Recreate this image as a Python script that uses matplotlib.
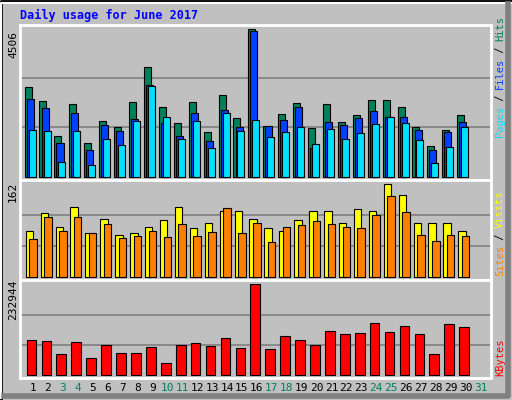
import matplotlib
matplotlib.use('Agg')
import matplotlib.pyplot as plt
import numpy as np

days = list(range(1, 31))
weekend = [3, 4, 10, 11, 17, 18, 24, 25, 31]
hits = [2740, 2311, 1238, 2219, 1024, 1698, 1514, 2280, 3353, 2127,
        1637, 2280, 1361, 2495, 1790, 4506, 1545, 1913, 2250, 1483,
        2219, 1667, 1882, 2342, 2342, 2127, 1514, 932, 1422, 1882]
files = [2372, 2096, 1042, 1943, 809, 1575, 1391, 1759, 2801, 1637,
         1238, 1943, 1085, 2035, 1514, 4445, 1545, 1729, 2127, 870,
         1667, 1575, 1790, 2004, 1821, 1821, 1422, 809, 1361, 1667]
pages = [1422, 1391, 441, 1391, 349, 1146, 962, 1698, 2771, 1821,
         1146, 1698, 870, 1943, 1391, 1729, 1208, 1361, 1514, 993,
         1453, 1146, 1330, 1606, 1821, 1637, 1116, 411, 901, 1514]
sites = [81, 111, 88, 123, 76, 102, 73, 76, 87, 99,
         122, 85, 94, 115, 116, 102, 85, 81, 99, 116,
         115, 95, 118, 116, 162, 144, 94, 95, 94, 81]
visits = [66, 104, 80, 104, 76, 92, 67, 71, 80, 69,
          92, 71, 78, 120, 76, 94, 60, 87, 90, 97,
          92, 88, 85, 108, 141, 113, 73, 62, 73, 71]
kbytes = [90100, 87550, 54400, 85000, 44200, 77350, 56950, 56950, 72250, 31450,
          77350, 82450, 74800, 95200, 69700, 232944, 67150, 100300, 90100, 77350,
          113050, 105400, 107950, 133450, 110500, 125800, 105400, 54400, 130900, 123250]

BG = '#C0C0C0'
W, H = 512, 400
fig = plt.figure(figsize=(W / 100, H / 100), dpi=100, facecolor=BG)

# 外框
frame = fig.add_axes([0, 0, 1, 1])
frame.set_xlim(0, W); frame.set_ylim(H, 0); frame.axis('off')
frame.plot([1, 1, 511], [399, 1, 1], color='black', lw=2)
frame.plot([1, 1, 511], [398, 3, 3], color='white', lw=1.5)
frame.plot([508, 508, 4], [4, 396, 396], color='#808080', lw=4)

frame.text(20, 15, 'Daily usage for June 2017', color='#0000FF', fontsize=8.5,
           fontweight='bold', family='DejaVu Sans Mono', va='center')

x = np.array(days)
x0, x1 = 20, 491


def make_ax(top, bottom):
    ax = fig.add_axes([x0 / W, 1 - bottom / H, (x1 - x0) / W, (bottom - top) / H])
    ax.set_facecolor(BG)
    for s in ax.spines.values():
        s.set_color('white'); s.set_linewidth(2)
    ax.set_xticks([]); ax.set_yticks([])
    ax.set_xlim(0.129, 31.7)
    return ax


def grids(ax, vmax):
    for f in (1 / 3, 2 / 3):
        ax.axhline(vmax * f, color='#808080', lw=1.2, zorder=0)


ax1 = make_ax(25, 180)
m = 4506
ax1.set_ylim(-0.022 * m, m * 1.027)
grids(ax1, m)
ax1.bar(x - 0.33, hits, width=0.47, color='#00805C', edgecolor='black', lw=0.8, zorder=2)
ax1.bar(x - 0.19, files, width=0.47, color='#0040FF', edgecolor='black', lw=0.8, zorder=3)
ax1.bar(x - 0.06, pages, width=0.47, color='#00E0FF', edgecolor='black', lw=0.8, zorder=4)

ax2 = make_ax(180, 280)
m = 162
ax2.set_ylim(-0.036 * m, m * 1.047)
grids(ax2, m)
ax2.bar(x - 0.24, sites, width=0.5, color='#FFFF00', edgecolor='black', lw=0.8, zorder=2)
ax2.bar(x + 0.0, visits, width=0.5, color='#FF8000', edgecolor='black', lw=0.8, zorder=3)

ax3 = make_ax(280, 378)
m = 232944
ax3.set_ylim(-0.033 * m, m * 1.047)
grids(ax3, m)
ax3.bar(x - 0.1, kbytes, width=0.65, color='#FF0000', edgecolor='black', lw=0.8, zorder=2)

# 左侧最大值
for y, s in [(45, '4506'), (192, '162'), (300, '232944')]:
    frame.text(13, y, s, rotation=90, fontsize=8, family='DejaVu Sans Mono',
               ha='center', va='center')

# 日期标签
for d in range(1, 32):
    px = 33 + (d - 1) * 14.92
    frame.text(px, 388, str(d), fontsize=8, family='DejaVu Sans Mono', ha='center',
               va='center', color='#00805C' if d in weekend else 'black')

# 右侧图例文字
def vlabel(parts, ybottom):
    y = ybottom
    for s, c in parts:
        t = frame.text(500, y, s, rotation=90, fontsize=7.5, family='DejaVu Sans Mono',
                       color=c, ha='center', va='bottom')
        y -= len(s) * 6.0

vlabel([('Pages', '#00E0FF'), (' / ', 'black'), ('Files', '#0040FF'),
        (' / ', 'black'), ('Hits', '#00805C')], 137)
vlabel([('Sites', '#FF8000'), (' / ', 'black'), ('Visits', '#FFFF00')], 276)
vlabel([('KBytes', '#FF0000')], 376)

fig.savefig('out.png', dpi=100, facecolor=BG)
